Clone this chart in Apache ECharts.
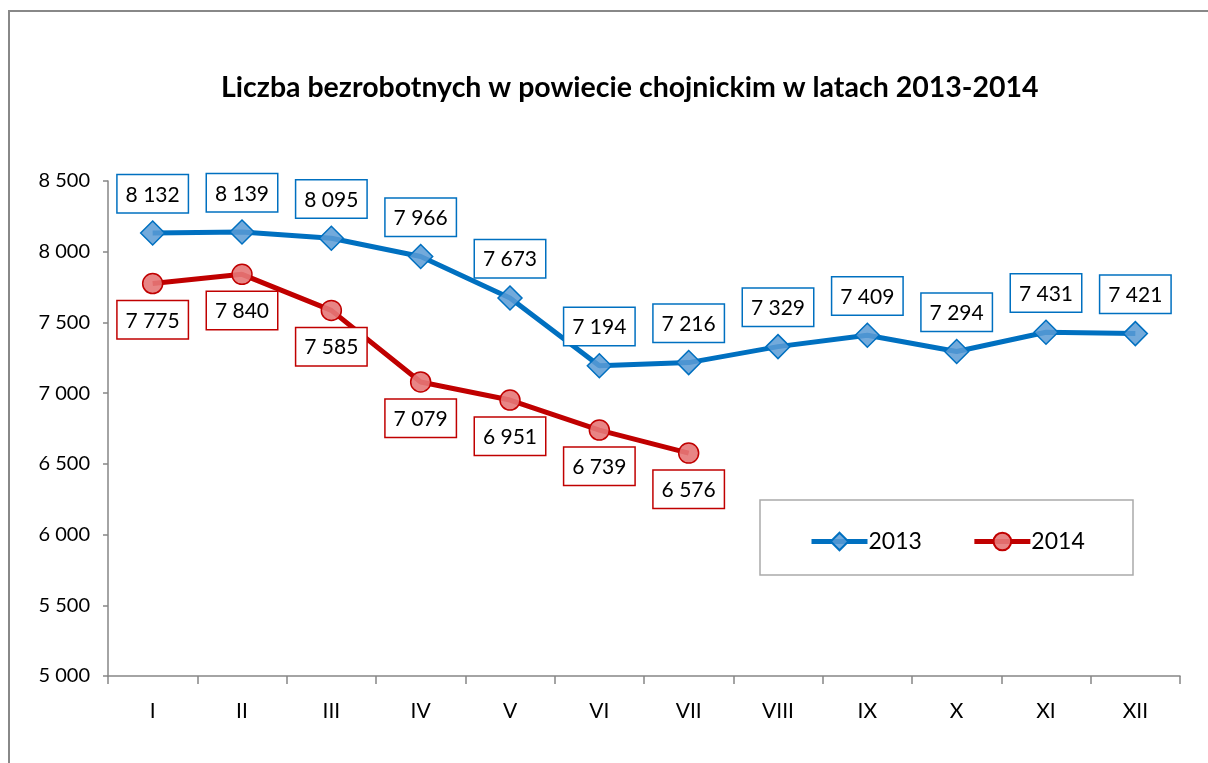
<!DOCTYPE html>
<html><head><meta charset="utf-8">
<script src="https://cdn.jsdelivr.net/npm/echarts@6/dist/echarts.min.js"></script>
<style>html,body{margin:0;padding:0;background:#fff}#c{width:1208px;height:763px}</style>
</head><body><div id="c"></div>
<script>
var categories = ['I','II','III','IV','V','VI','VII','VIII','IX','X','XI','XII'];
var values2013 = [8132, 8139, 8095, 7966, 7673, 7194, 7216, 7329, 7409, 7294, 7431, 7421];
var values2014 = [7775, 7840, 7585, 7079, 6951, 6739, 6576];
var seriesNames = ['2013', '2014'];
var titleText = 'Liczba bezrobotnych w powiecie chojnickim w latach 2013-2014';

function fmt(v){ return String(v).replace(/\B(?=(\d{3})+(?!\d))/g, ' '); }
var FONT = 'Lato';
var chart = echarts.init(document.getElementById('c'));
function lbl(color, pos, dist){
  return {show:true, position:pos, distance:dist, formatter:function(p){return fmt(p.value);},
    fontFamily:FONT, fontSize:21, color:'#000', backgroundColor:'#fff',
    borderColor:color, borderWidth:1.5, padding:[9,10,7,10], width:50, align:'center'};
}
chart.setOption({
  animation:false,
  title:{text:titleText, left:216, top:68, textStyle:{fontFamily:FONT, fontWeight:'bold', fontSize:28.5, color:'#000'}},
  graphic:[
    {type:'rect', shape:{x:9, y:11, width:1400, height:900}, style:{fill:null, stroke:'#888', lineWidth:2}, silent:true},
    {type:'rect', shape:{x:760, y:500, width:373, height:75}, style:{fill:'#fff', stroke:'#aaa', lineWidth:1.5}, silent:true, z:5}
  ],
  legend:{left:804, top:525, itemWidth:56, itemHeight:22, itemGap:50, z:10,
    lineStyle:{width:5},
    textStyle:{fontFamily:FONT, fontSize:23, color:'#000', padding:[0,0,0,-4]}, data:seriesNames},
  grid:{left:108, right:28, top:181, bottom:87},
  xAxis:{type:'category', data:categories, boundaryGap:true,
    axisLine:{lineStyle:{color:'#868686', width:1.5}},
    axisTick:{show:true, length:8, lineStyle:{color:'#868686', width:1.5}},
    axisLabel:{fontFamily:FONT, fontSize:21, color:'#000', margin:25}},
  yAxis:{type:'value', min:5000, max:8500, interval:500,
    axisLine:{show:true, lineStyle:{color:'#868686', width:1.5}},
    axisTick:{show:true, length:5, lineStyle:{color:'#868686', width:1.5}},
    splitLine:{show:false},
    axisLabel:{fontFamily:FONT, fontSize:20, color:'#000', margin:18, formatter:function(v){return fmt(v);}}},
  series:[
    {name:seriesNames[0], type:'line', data:values2013, symbol:'diamond', symbolSize:[24,24],
      lineStyle:{color:'#0070C0', width:5}, itemStyle:{color:'rgba(91,155,213,0.85)', borderColor:'#0070C0', borderWidth:1.5},
      label:lbl('#0070C0','top',8), z:3},
    {name:seriesNames[1], type:'line', data:values2014, symbol:'circle', symbolSize:20,
      lineStyle:{color:'#C00000', width:5}, itemStyle:{color:'rgba(230,120,120,0.9)', borderColor:'#C00000', borderWidth:1.5},
      label:lbl('#C00000','bottom',7), z:3}
  ]
});
</script></body></html>
